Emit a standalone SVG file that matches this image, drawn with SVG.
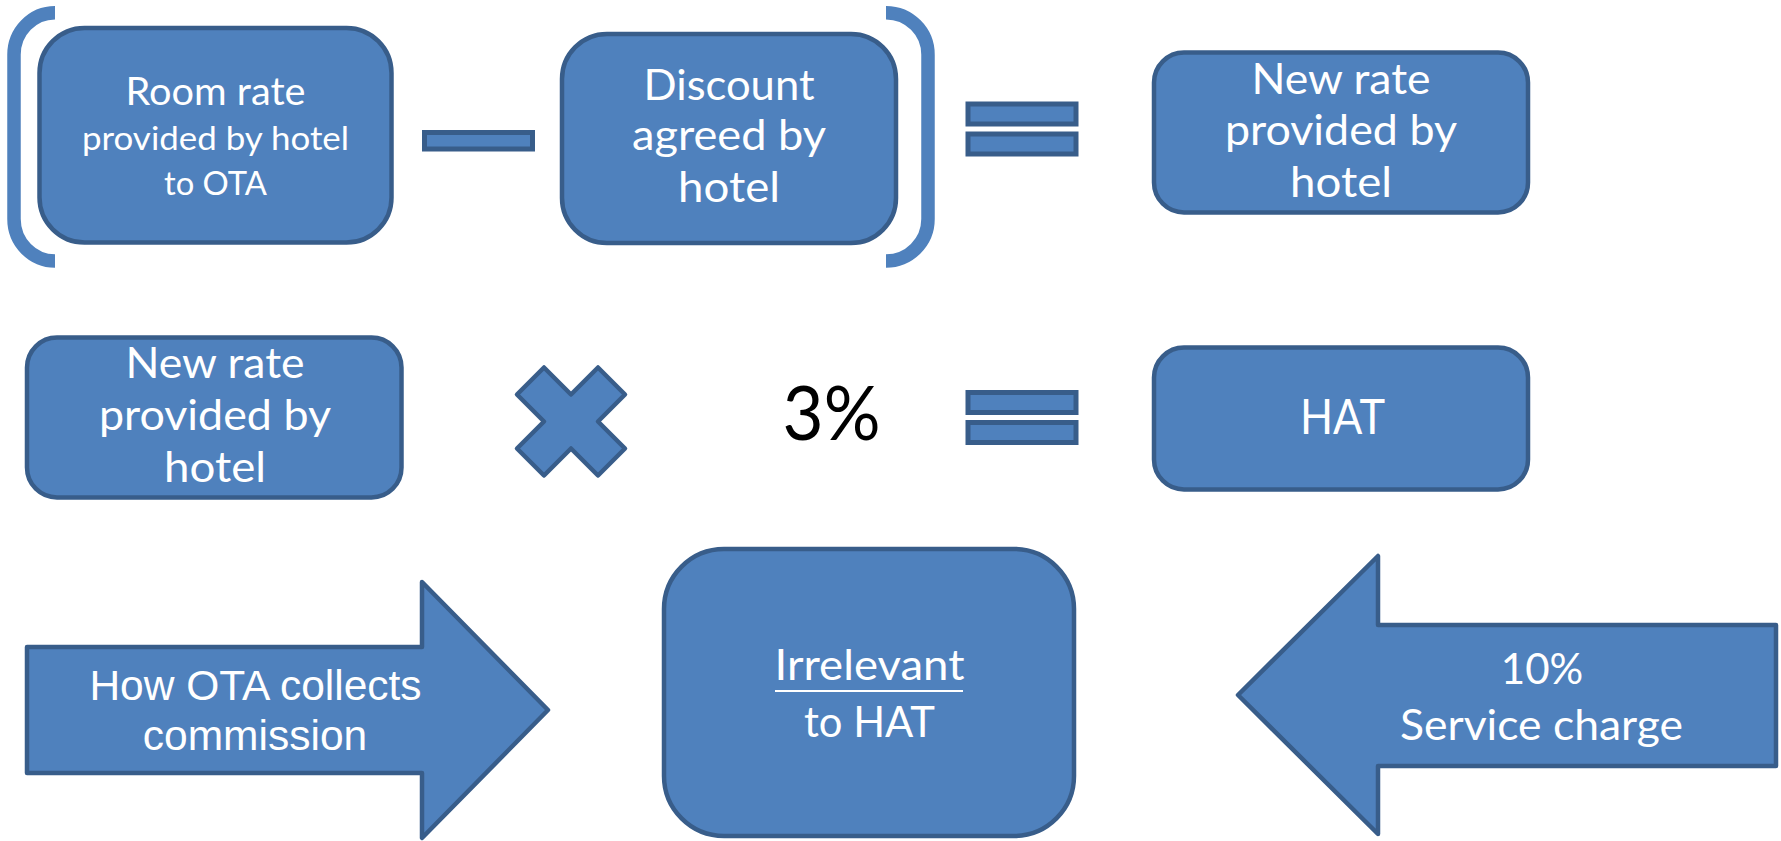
<svg xmlns="http://www.w3.org/2000/svg" width="1781" height="841" viewBox="0 0 1781 841">
<style>
.shape{fill:#4F81BD;stroke:#385D8A;stroke-width:4.5;stroke-linejoin:round}
.bar{fill:#4F81BD;stroke:#385D8A;stroke-width:5}
.bracket{fill:none;stroke:#4F81BD;stroke-width:13.5}
.t{fill:#FFFFFF;font-family:Lato,"Open Sans",sans-serif;text-anchor:middle}
.a{fill:#FFFFFF;font-family:"Liberation Sans",Arial,sans-serif;text-anchor:middle;font-size:42.5px}
</style>
<rect width="1781" height="841" fill="#FFFFFF"/>
<g id="brackets">
<path class="bracket" d="M55,12.7 A41,42 0 0 0 14,55 L14,219 A41,42 0 0 0 55,261"/>
<path class="bracket" d="M886,12.7 A42,42 0 0 1 928,55 L928,219 A42,42 0 0 1 886,261"/>
</g>
<g id="room-rate">
<rect class="shape" x="39.5" y="28" width="352" height="214.5" rx="45" ry="45"/>
<text class="t" x="215.5" y="105" font-size="38" textLength="180" lengthAdjust="spacingAndGlyphs">Room rate</text>
<text class="t" x="215.5" y="150" font-size="33.5" textLength="267" lengthAdjust="spacingAndGlyphs">provided by hotel</text>
<text class="t" x="215.5" y="195" font-size="33.5" textLength="103" lengthAdjust="spacingAndGlyphs">to OTA</text>
</g>
<g id="minus">
<rect class="bar" x="424.5" y="132.5" width="108" height="16.5"/>
</g>
<g id="discount">
<rect class="shape" x="562" y="34" width="334" height="209" rx="45" ry="45"/>
<text class="t" x="729" y="100" font-size="43" textLength="171" lengthAdjust="spacingAndGlyphs">Discount</text>
<text class="t" x="729" y="150" font-size="43" textLength="194" lengthAdjust="spacingAndGlyphs">agreed by</text>
<text class="t" x="729" y="201.5" font-size="43" textLength="102" lengthAdjust="spacingAndGlyphs">hotel</text>
</g>
<g id="equals-1">
<rect class="bar" x="968" y="104" width="108" height="20"/>
<rect class="bar" x="968" y="134" width="108" height="20"/>
</g>
<g id="new-rate-1">
<rect class="shape" x="1154" y="52.5" width="374" height="160" rx="30" ry="30"/>
<text class="t" x="1341" y="94" font-size="43" textLength="179" lengthAdjust="spacingAndGlyphs">New rate</text>
<text class="t" x="1341" y="145" font-size="43" textLength="232" lengthAdjust="spacingAndGlyphs">provided by</text>
<text class="t" x="1341" y="196.5" font-size="43" textLength="102" lengthAdjust="spacingAndGlyphs">hotel</text>
</g>
<g id="new-rate-2">
<rect class="shape" x="27" y="337.5" width="374.5" height="160" rx="30" ry="30"/>
<text class="t" x="215" y="378" font-size="43" textLength="179" lengthAdjust="spacingAndGlyphs">New rate</text>
<text class="t" x="215" y="430" font-size="43" textLength="232" lengthAdjust="spacingAndGlyphs">provided by</text>
<text class="t" x="215" y="481.5" font-size="43" textLength="102" lengthAdjust="spacingAndGlyphs">hotel</text>
</g>
<g id="multiply">
<polygon class="shape" transform="translate(571,421.5)" points="-27,-54 0,-27 27,-54 54,-27 27,0 54,27 27,54 0,27 -27,54 -54,27 -27,0 -54,-27"/>
</g>
<g id="three-percent">
<text x="831.5" y="440" font-size="75" fill="#000000" font-family="Lato,'Open Sans',sans-serif" text-anchor="middle" textLength="98" lengthAdjust="spacingAndGlyphs">3%</text>
</g>
<g id="equals-2">
<rect class="bar" x="968" y="392.5" width="108" height="20"/>
<rect class="bar" x="968" y="422.5" width="108" height="20"/>
</g>
<g id="hat">
<rect class="shape" x="1154" y="347.5" width="374" height="142" rx="30" ry="30"/>
<text class="t" x="1342.5" y="433.5" font-size="49" textLength="85" lengthAdjust="spacingAndGlyphs">HAT</text>
</g>
<g id="ota-commission">
<polygon class="shape" points="27,647 422,647 422,582 548,710 422,838 422,773 27,773"/>
<text class="a" x="255.5" y="699.5">How OTA collects</text>
<text class="a" x="255" y="750">commission</text>
</g>
<g id="irrelevant">
<rect class="shape" x="664" y="549" width="410" height="287" rx="60" ry="60"/>
<text class="t" x="869.5" y="679.5" font-size="43" textLength="190" lengthAdjust="spacingAndGlyphs">Irrelevant</text>
<line x1="775" y1="691" x2="963" y2="691" stroke="#FFFFFF" stroke-width="2"/>
<text class="t" x="869.5" y="736.5" font-size="43" textLength="131" lengthAdjust="spacingAndGlyphs">to HAT</text>
</g>
<g id="service-charge">
<polygon class="shape" points="1238,695 1378,556 1378,625 1776,625 1776,766 1378,766 1378,834"/>
<text class="t" x="1542" y="683.5" font-size="43" textLength="82.5" lengthAdjust="spacingAndGlyphs">10%</text>
<text class="t" x="1541.5" y="740" font-size="43" textLength="283" lengthAdjust="spacingAndGlyphs">Service charge</text>
</g>
<g id="connectors"/>
</svg>
